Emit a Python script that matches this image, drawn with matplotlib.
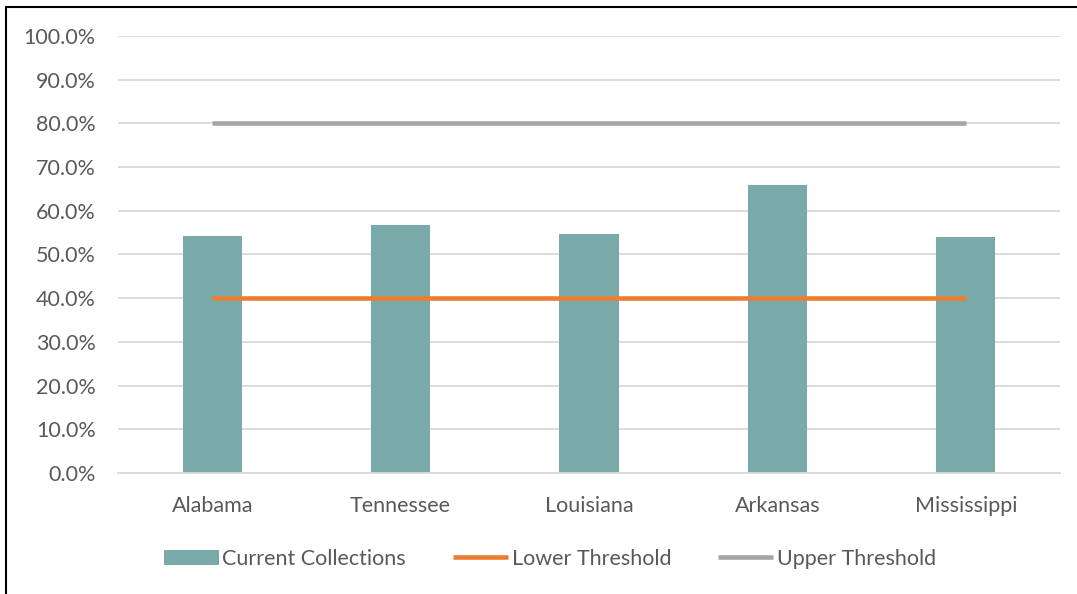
import matplotlib.pyplot as plt
import matplotlib.ticker as mticker
from matplotlib.patches import Rectangle

# -->> Data <<-------------------------

STATES = ["Alabama", "Tennessee", "Louisiana", "Arkansas", "Mississippi"]
CURRENT = [0.542, 0.567, 0.546, 0.659, 0.540]
LOWER = [0.40, 0.40, 0.40, 0.40, 0.40]
UPPER = [0.80, 0.80, 0.80, 0.80, 0.80]

BAR_COLOR = "#7AA9AA"
LOWER_COLOR = "#ED7D31"
UPPER_COLOR = "#A5A5A5"
TEXT_COLOR = "#595959"

# -->> Plot <<-------------------------

plt.rcParams["font.family"] = ["Lato", "DejaVu Sans"]
plt.rcParams["font.size"] = 15.5

W, H = 1077, 594
fig = plt.figure(figsize=(W / 100, H / 100), dpi=100)
ax = fig.add_axes([118 / W, 1 - 473 / H, (1060 - 118) / W, (473 - 36) / H])

x = list(range(len(STATES)))
bars = ax.bar(x, CURRENT, width=0.315, color=BAR_COLOR,
              label="Current Collections", zorder=2)
(low,) = ax.plot(x, LOWER, color=LOWER_COLOR, lw=3.3, solid_capstyle="butt",
                 label="Lower Threshold", zorder=3)
(up,) = ax.plot(x, UPPER, color=UPPER_COLOR, lw=3.3, solid_capstyle="butt",
                label="Upper Threshold", zorder=3)

ax.set_xlim(-0.5, len(STATES) - 0.5)
ax.set_ylim(0, 1.0)
ax.yaxis.set_major_locator(mticker.MultipleLocator(0.1))
ax.yaxis.set_major_formatter(mticker.PercentFormatter(1.0, decimals=1))
ax.set_xticks(x)
ax.set_xticklabels(STATES)

ax.grid(axis="y", color="#D9D9D9", lw=1.3, zorder=0)
ax.set_axisbelow(True)
for side in ["top", "right", "left"]:
    ax.spines[side].set_visible(False)
ax.spines["bottom"].set_color("#D9D9D9")
ax.spines["bottom"].set_linewidth(1.3)
ax.tick_params(axis="both", length=0, colors=TEXT_COLOR)
ax.tick_params(axis="x", pad=16.5)
ax.tick_params(axis="y", pad=16)

fig.legend(
    handles=[bars, low, up],
    loc="center",
    bbox_to_anchor=(550 / W, 1 - 559 / H),
    ncol=3,
    frameon=False,
    handlelength=2.55,
    handletextpad=0.15,
    columnspacing=2.2,
    labelcolor=TEXT_COLOR,
)

# Chart border (left and top visible)
fig.patches.append(
    Rectangle((6 / W, -0.1), 1.2, 1 - 7 / H + 0.1, transform=fig.transFigure,
              fill=False, edgecolor="black", lw=1.5)
)

fig.savefig("out.png", dpi=100)
